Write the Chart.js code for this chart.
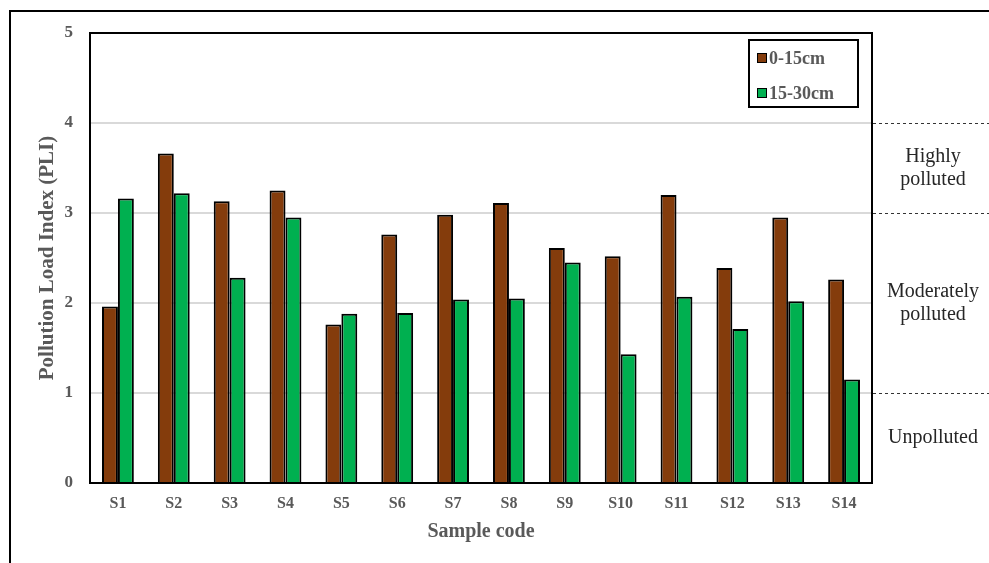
<!DOCTYPE html>
<html>
<head>
<meta charset="utf-8">
<script src="https://cdn.jsdelivr.net/npm/chart.js@4"></script>
<style>
  body { margin: 0; background: #fff; }
  #frame { position: absolute; left: 9px; top: 10px; width: 990px; height: 560px; border-left: 2px solid #000; border-top: 2px solid #000; }
  canvas { position: absolute; left: 0; top: 0; }
</style>
</head>
<body>
<div id="frame"></div>
<canvas id="myChart" width="989" height="563"></canvas>
<script>
// dati
const samples = ["S1", "S2", "S3", "S4", "S5", "S6", "S7", "S8", "S9", "S10", "S11", "S12", "S13", "S14"]
const depth0to15 = [1.96, 3.66, 3.13, 3.25, 1.76, 2.76, 2.98, 3.11, 2.61, 2.52, 3.20, 2.39, 2.95, 2.26]
const depth15to30 = [3.16, 3.22, 2.28, 2.95, 1.88, 1.89, 2.04, 2.05, 2.45, 1.43, 2.07, 1.71, 2.02, 1.15]
const seriesNames = ["0-15cm", "15-30cm"]
const yTicks = [0, 1, 2, 3, 4, 5]
// classi PLI a destra
const classLimits = [4, 3, 1]
const classBands = [
  { from: 4, to: 3, lines: ["Highly", "polluted"] },
  { from: 3, to: 1, lines: ["Moderately", "polluted"] },
  { from: 1, to: 0, lines: ["Unpolluted"] },
]

const grigio = "#595959"
const serif = "'Liberation Serif', 'Times New Roman', serif"

// bordo area grafico + linee tratteggiate + testi + legenda
const extras = {
  id: "extras",
  afterDraw(chart) {
    const { ctx, chartArea: a, scales } = chart
    const y = scales.y
    ctx.save()
    ctx.strokeStyle = "#000"
    ctx.lineWidth = 2
    ctx.strokeRect(a.left, a.top, a.right - a.left, a.bottom - a.top)

    ctx.setLineDash([3, 3])
    ctx.lineWidth = 1
    ctx.strokeStyle = "#333"
    classLimits.forEach((v) => {
      const py = Math.round(y.getPixelForValue(v)) + 0.5
      ctx.beginPath()
      ctx.moveTo(a.right + 1, py)
      ctx.lineTo(chart.width, py)
      ctx.stroke()
    })
    ctx.setLineDash([])

    ctx.fillStyle = "#262626"
    ctx.font = "20px " + serif
    ctx.textAlign = "center"
    ctx.textBaseline = "middle"
    classBands.forEach((b) => {
      const mid = (y.getPixelForValue(b.from) + y.getPixelForValue(b.to)) / 2
      const lh = 23
      const start = mid - ((b.lines.length - 1) * lh) / 2
      b.lines.forEach((t, i) => ctx.fillText(t, 933, start + i * lh))
    })

    // legenda
    ctx.lineWidth = 2
    ctx.strokeStyle = "#000"
    ctx.strokeRect(749, 40, 109, 67)
    ctx.font = "bold 18px " + serif
    ctx.textAlign = "left"
    chart.data.datasets.forEach((ds, i) => {
      const cy = 58 + i * 35
      ctx.fillStyle = ds.backgroundColor
      ctx.fillRect(757, cy - 5, 10, 10)
      ctx.lineWidth = 1
      ctx.strokeRect(757.5, cy - 4.5, 9, 9)
      ctx.fillStyle = grigio
      ctx.fillText(ds.label, 769, cy + 1)
    })
    ctx.restore()
  },
}

const ctx = document.getElementById("myChart")

new Chart(ctx, {
  type: "bar",
  data: {
    labels: samples,
    datasets: [
      {
        label: seriesNames[0],
        data: depth0to15,
        backgroundColor: "#843C0C",
        borderColor: "#000",
        borderWidth: 2,
        barPercentage: 1,
        categoryPercentage: 0.57,
      },
      {
        label: seriesNames[1],
        data: depth15to30,
        backgroundColor: "#00B050",
        borderColor: "#000",
        borderWidth: 2,
        barPercentage: 1,
        categoryPercentage: 0.57,
      },
    ],
  },
  options: {
    responsive: false,
    animation: false,
    devicePixelRatio: 1,
    layout: { padding: { left: 0, top: 33, right: 117, bottom: 0 } },
    plugins: {
      legend: { display: false },
      tooltip: { enabled: false },
    },
    scales: {
      x: {
        grid: { display: false, drawTicks: false, tickLength: 0 },
        border: { display: false },
        ticks: { color: grigio, font: { family: serif, size: 16, weight: "bold" }, padding: 11, maxRotation: 0 },
        title: { display: true, text: "Sample code", color: grigio, font: { family: serif, size: 20, weight: "bold" }, padding: { top: 0, bottom: 19 } },
        afterFit(scale) { scale.height = 80 },
      },
      y: {
        min: 0,
        max: 5,
        afterBuildTicks(scale) { scale.ticks = yTicks.map((v) => ({ value: v })) },
        grid: { color: "#d9d9d9", lineWidth: 2, drawTicks: false, tickLength: 0 },
        border: { display: false },
        ticks: { color: grigio, font: { family: serif, size: 17, weight: "bold" }, padding: 17 },
        title: { display: true, text: "Pollution Load Index (PLI)", color: grigio, font: { family: serif, size: 21, weight: "bold" }, padding: { top: 35, bottom: 0 } },
        afterFit(scale) { scale.width = 90 },
      },
    },
  },
  plugins: [extras],
})
</script>
</body>
</html>
